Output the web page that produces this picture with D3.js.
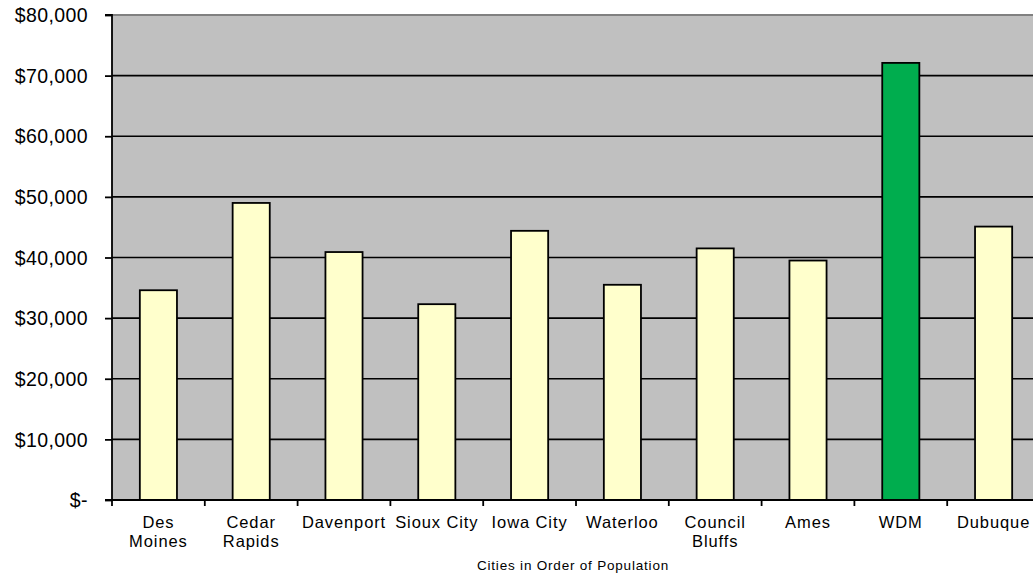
<!DOCTYPE html>
<html>
<head>
<meta charset="utf-8">
<script src="https://cdn.jsdelivr.net/npm/d3@7"></script>
<style>
  html, body { margin: 0; padding: 0; background: #fff; }
  svg { display: block; }
  text { font-family: "Liberation Sans", Arial, sans-serif; fill: #000; }
</style>
</head>
<body>
<svg id="chart" width="1033" height="573"></svg>
<script>
const categories = ["Des\nMoines", "Cedar\nRapids", "Davenport", "Sioux City", "Iowa City", "Waterloo", "Council\nBluffs", "Ames", "WDM", "Dubuque"];
const values = [34600, 49000, 40900, 32300, 44400, 35500, 41500, 39500, 72100, 45100];
const highlight = ["WDM"];
const yTicks = [0, 10000, 20000, 30000, 40000, 50000, 60000, 70000, 80000];
const xTitle = "Cities in Order of Population";

const svg = d3.select("#chart");
const pL = 112, pR = 1040, pT = 15, pB = 500;

const x = d3.scaleBand().domain(categories).range([pL, pR]).paddingInner(0.6).paddingOuter(0.3);
const y = d3.scaleLinear().domain([0, 80000]).range([pB, pT]);

// plot background
svg.append("rect").attr("x", pL).attr("y", pT).attr("width", pR - pL).attr("height", pB - pT)
  .attr("fill", "#C0C0C0");
svg.append("line").attr("x1", pL).attr("x2", pR).attr("y1", pT).attr("y2", pT)
  .attr("stroke", "#808080").attr("stroke-width", 2);

// gridlines
svg.append("g").selectAll("line").data(yTicks.filter(d => d > 0 && d < 80000)).join("line")
  .attr("x1", pL).attr("x2", pR).attr("y1", d => y(d)).attr("y2", d => y(d))
  .attr("stroke", "#000").attr("stroke-width", 1.6);

// bars
svg.append("g").selectAll("rect").data(categories).join("rect")
  .attr("x", d => x(d)).attr("width", x.bandwidth())
  .attr("y", (d, i) => y(values[i])).attr("height", (d, i) => y(0) - y(values[i]))
  .attr("fill", d => highlight.includes(d) ? "#00AD4E" : "#FFFFCC")
  .attr("stroke", "#000").attr("stroke-width", 1.8);

// y axis
const yAxis = d3.axisLeft(y).tickValues(yTicks).tickSize(7).tickPadding(17)
  .tickFormat(d => d === 0 ? "$-" : "$" + d3.format(",")(d));
const gy = svg.append("g").attr("transform", `translate(${pL},0)`).call(yAxis);
gy.select(".domain").attr("stroke", "#000").attr("stroke-width", 1.8).attr("d", `M-7,${pT}H0V${pB}H-7`);
gy.selectAll(".tick line").attr("stroke", "#000").attr("stroke-width", 1.8);
gy.selectAll(".tick text").attr("font-size", 19.5).attr("font-family", "Liberation Sans, Arial, sans-serif")
  .attr("fill", "#000").attr("dy", "0.34em").style("letter-spacing", "0.4px");

// x axis baseline + ticks at category boundaries
svg.append("line").attr("x1", pL).attr("x2", pR).attr("y1", pB).attr("y2", pB)
  .attr("stroke", "#000").attr("stroke-width", 1.8);
const boundaries = categories.map(c => x(c) + x.bandwidth() / 2 - x.step() / 2);
svg.append("g").selectAll("line").data(boundaries).join("line")
  .attr("x1", d => d).attr("x2", d => d).attr("y1", pB).attr("y2", pB + 6)
  .attr("stroke", "#000").attr("stroke-width", 1.8);

// category labels
const lab = svg.append("g").selectAll("text").data(categories).join("text")
  .attr("x", d => x(d) + x.bandwidth() / 2).attr("y", 527.5)
  .attr("text-anchor", "middle").attr("font-size", 16.5).style("letter-spacing", "0.9px");
lab.each(function(d) {
  const t = d3.select(this);
  d.split("\n").forEach((ln, i) => {
    t.append("tspan").attr("x", x(d) + x.bandwidth() / 2).attr("dy", i === 0 ? 0 : 19.8).text(ln);
  });
});

// x title
svg.append("text").attr("x", 573).attr("y", 570).attr("text-anchor", "middle")
  .attr("font-size", 13.5).style("letter-spacing", "0.8px").text(xTitle);
</script>
</body>
</html>
